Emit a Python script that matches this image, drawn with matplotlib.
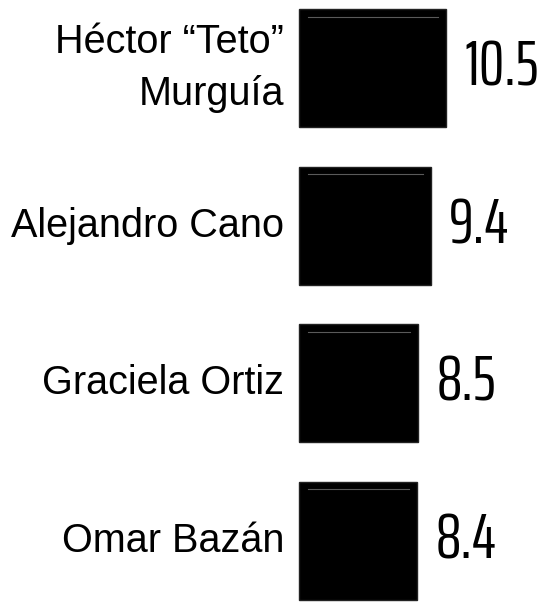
import matplotlib.pyplot as plt

# Data
names = ["Héctor “Teto”\nMurguía", "Alejandro Cano", "Graciela Ortiz", "Omar Bazán"]
values = [10.5, 9.4, 8.5, 8.4]
value_labels = ["10.5", "9.4", "8.5", "8.4"]

fig = plt.figure(figsize=(5.43, 6.02), dpi=100)
ax = fig.add_axes([0, 0, 1, 1])

bar_h = 0.75
pos = range(len(values))
ax.barh(pos, values, height=bar_h, color="black", edgecolor="#222222", linewidth=1)

for i, (v, lab, name) in enumerate(zip(values, value_labels, names)):
    # faint highlight line just under the top edge of each block
    ax.plot([0.6, v - 0.6], [i - bar_h / 2 + 0.05] * 2, color="#5a5a5a", lw=0.8)
    ax.text(v + 1.3, i, lab, ha="left", va="center", fontsize=46,
            family=["Saira ExtraCondensed", "DejaVu Sans"], weight="normal", color="black")
    ax.text(-1.1, i, name, ha="right", va="center", fontsize=28.5,
            family=["Liberation Sans", "DejaVu Sans"], linespacing=1.45, color="black")

ax.set_xlim(-21.4, 17.4)
ax.set_ylim(3.39, -0.433)
ax.axis("off")

fig.savefig("out.png", dpi=100)
